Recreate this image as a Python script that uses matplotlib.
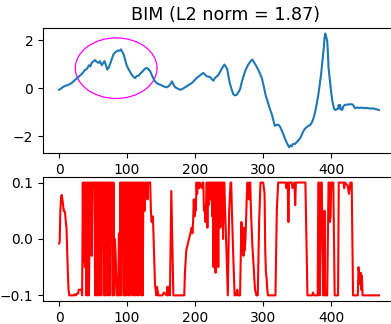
import numpy as np
import matplotlib
matplotlib.use('Agg')
import matplotlib.pyplot as plt
from matplotlib.patches import Ellipse

# top curve (signal)
sig_x = [0, 3, 6, 10, 14, 18, 22, 26, 30, 34, 38, 41, 44, 46, 48, 50, 53, 55, 58, 60,
         63, 65, 67, 69, 71, 73, 75, 78, 80, 83, 87, 89, 91, 93, 95, 97, 99, 101, 104, 107,
         110, 112, 114, 117, 120, 123, 126, 129, 131, 134, 137, 141, 145, 149, 153, 158, 162, 166, 168, 171,
         175, 178, 181, 185, 190, 195, 199, 202, 206, 209, 212, 215, 217, 220, 222, 224, 227, 229, 232, 235,
         237, 240, 243, 245, 247, 249, 251, 253, 256, 258, 261, 264, 266, 268, 271, 274, 278, 281, 284, 287,
         290, 293, 296, 298, 301, 304, 306, 309, 313, 315, 317, 320, 323, 325, 327, 330, 332, 335, 338, 340,
         342, 344, 347, 349, 352, 355, 358, 361, 364, 367, 369, 372, 375, 377, 379, 381, 383, 385, 387, 389,
         390, 391, 392, 394, 395, 396, 398, 400, 402, 404, 406, 408, 410, 411, 412, 413, 414, 416, 418, 420,
         425, 430, 432, 435, 438, 441, 445, 448, 452, 456, 460, 465, 470]
sig_y = [-0.07, -0.02, 0.05, 0.1, 0.14, 0.2, 0.3, 0.4, 0.5, 0.6, 0.75, 0.8, 0.95, 0.9, 1.05, 1.1, 1.17, 1.1, 1.05, 1.12,
         0.95, 1.05, 1.12, 0.95, 0.77, 0.85, 1.0, 1.25, 1.4, 1.5, 1.57, 1.55, 1.61, 1.5, 1.4, 1.2, 0.98, 0.85, 0.7, 0.55,
         0.45, 0.42, 0.5, 0.52, 0.62, 0.7, 0.8, 0.84, 0.8, 0.7, 0.5, 0.28, 0.18, 0.14, 0.08, 0.03, 0.1, 0.28, 0.15, 0.03,
         -0.03, -0.07, -0.04, 0.03, 0.12, 0.21, 0.32, 0.42, 0.5, 0.57, 0.63, 0.55, 0.49, 0.47, 0.46, 0.38, 0.31, 0.42, 0.49, 0.58,
         0.7, 0.85, 0.98, 0.9, 0.8, 0.5, 0.2, 0.0, -0.25, -0.3, -0.28, -0.15, -0.05, 0.2, 0.49, 0.75, 0.98, 1.1, 1.19, 1.05,
         0.91, 0.75, 0.55, 0.42, 0.05, -0.35, -0.5, -0.8, -1.12, -1.35, -1.57, -1.52, -1.54, -1.62, -1.75, -1.95, -2.1, -2.3, -2.46, -2.38,
         -2.42, -2.32, -2.32, -2.25, -2.17, -2.05, -1.85, -1.7, -1.62, -1.56, -1.54, -1.4, -1.15, -0.9, -0.6, -0.28, 0.15, 0.56, 1.1, 1.68,
         2.05, 2.27, 2.2, 1.96, 1.5, 0.84, 0.3, -0.21, -0.6, -0.85, -0.91, -0.88, -0.84, -0.7, -0.85, -0.7, -0.88, -0.91, -0.75, -0.7,
         -0.68, -0.67, -0.7, -0.84, -0.8, -0.83, -0.81, -0.84, -0.82, -0.85, -0.84, -0.87, -0.91]

# bottom curve (perturbation)
pert_x = [0, 1, 2, 3, 4, 5, 6, 7, 8, 9, 10, 11, 12, 13, 14, 15, 22, 23, 25, 26,
          28, 29, 31, 33, 34, 35, 36, 37, 38, 39, 40, 41, 42, 43, 44, 45, 46, 47, 48, 49,
          52, 53, 54, 55, 56, 57, 58, 59, 60, 61, 62, 63, 65, 66, 67, 68, 69, 70, 71, 72,
          73, 74, 75, 76, 77, 78, 79, 80, 81, 82, 83, 84, 85, 87, 88, 89, 90, 91, 92, 93,
          94, 95, 96, 97, 98, 99, 100, 101, 102, 103, 104, 105, 106, 107, 108, 109, 110, 111, 112, 113,
          114, 115, 116, 117, 118, 119, 120, 121, 122, 123, 124, 126, 127, 129, 130, 131, 134, 135, 136, 138,
          139, 141, 143, 144, 146, 152, 154, 158, 159, 160, 161, 163, 165, 168, 184, 185, 187, 189, 191, 193,
          195, 196, 197, 198, 199, 200, 201, 202, 203, 204, 206, 207, 210, 211, 212, 213, 214, 215, 216, 217,
          218, 219, 220, 221, 222, 223, 224, 225, 226, 227, 228, 229, 230, 231, 232, 233, 234, 235, 236, 237,
          238, 239, 240, 241, 242, 243, 244, 246, 248, 250, 252, 253, 254, 256, 258, 260, 262, 263, 266, 268,
          269, 270, 271, 272, 273, 274, 276, 277, 279, 280, 281, 282, 283, 284, 286, 288, 290, 292, 294, 296,
          300, 302, 303, 304, 305, 306, 307, 318, 320, 322, 333, 334, 336, 337, 338, 342, 343, 346, 347, 348,
          362, 365, 372, 373, 375, 380, 381, 382, 383, 385, 386, 388, 389, 390, 391, 394, 396, 397, 398, 399,
          400, 403, 405, 410, 411, 413, 418, 419, 420, 424, 426, 428, 430, 432, 439, 440, 441, 442, 443, 444,
          445, 446, 447, 470]
pert_y = [-0.008, -0.005, 0.05, 0.074, 0.078, 0.07, 0.06, 0.05, 0.05, 0.045, 0.03, 0.02, -0.02, -0.06, -0.09, -0.1, -0.1, -0.098, -0.1, -0.097,
          -0.097, -0.09, -0.09, -0.09, -0.1, 0.1, -0.04, 0.1, -0.05, 0.1, -0.1, 0.1, -0.1, 0.1, -0.1, 0.02, 0.1, 0.1, -0.03, 0.1,
          0.1, -0.1, 0.1, -0.1, 0.1, -0.1, 0.1, 0.1, -0.1, 0.1, -0.1, 0.1, 0.1, -0.1, 0.1, -0.1, 0.1, -0.1, 0.1, 0.1,
          -0.1, 0.1, -0.1, 0.1, 0.02, 0.1, -0.1, 0.1, -0.1, 0.0, -0.02, -0.06, -0.1, -0.1, 0.01, -0.1, 0.1, -0.1, 0.1, 0.0,
          0.1, -0.1, 0.1, -0.1, 0.1, -0.1, 0.1, 0.1, -0.1, 0.1, -0.1, 0.1, 0.04, 0.1, -0.1, 0.1, -0.1, 0.1, -0.1, 0.1,
          0.1, -0.1, 0.1, -0.1, 0.1, 0.02, 0.1, -0.1, 0.1, -0.1, 0.1, 0.05, 0.1, 0.1, 0.07, 0.1, 0.1, 0.05, 0.03, 0.04,
          0.0, -0.08, -0.1, -0.085, -0.1, -0.1, -0.095, -0.1, -0.085, -0.1, -0.085, -0.1, 0.085, -0.1, -0.1, -0.06, -0.02, -0.01, 0.0, 0.01,
          0.02, 0.01, 0.03, 0.07, 0.04, 0.07, 0.05, 0.1, 0.08, 0.1, 0.09, 0.1, 0.09, 0.1, 0.1, 0.05, 0.06, 0.03, 0.05, 0.1,
          0.02, 0.1, 0.06, 0.1, 0.07, 0.1, 0.1, 0.04, 0.1, -0.05, 0.1, 0.1, -0.06, 0.1, 0.0, 0.1, -0.05, 0.1, 0.1, 0.02,
          0.1, 0.05, 0.1, 0.0, 0.1, 0.1, 0.05, -0.02, -0.1, 0.05, 0.1, 0.1, 0.05, -0.03, -0.1, -0.1, -0.09, -0.1, -0.1, 0.03,
          -0.02, 0.01, -0.03, 0.02, -0.02, 0.0, 0.08, 0.1, 0.07, 0.1, 0.1, 0.05, 0.02, -0.01, -0.05, -0.09, -0.1, -0.1, 0.03, 0.1,
          0.1, 0.08, -0.02, -0.06, -0.07, -0.09, -0.1, -0.1, 0.05, 0.1, 0.1, 0.09, 0.1, 0.03, 0.1, 0.1, 0.09, 0.1, 0.06, 0.1,
          0.1, -0.1, -0.1, -0.095, -0.1, -0.1, 0.1, 0.1, -0.1, 0.1, 0.1, -0.1, -0.1, 0.05, -0.1, -0.1, 0.1, 0.1, 0.03, 0.04,
          0.1, 0.1, -0.1, -0.1, 0.1, 0.1, 0.1, 0.09, 0.1, 0.095, 0.08, 0.1, 0.1, -0.1, -0.1, -0.05, -0.06, -0.08, -0.06, -0.09,
          -0.065, -0.1, -0.1, -0.1]

title = 'BIM (L2 norm = 1.87)'

fig = plt.figure(figsize=(3.91, 3.24), dpi=100)
ax1 = fig.add_axes([0.110, 0.528, 0.900, 0.386])
ax2 = fig.add_axes([0.110, 0.071, 0.900, 0.383])

ax1.plot(sig_x, sig_y, color='#1f77b4', linewidth=1.5)
ax1.set_title(title, fontsize=12.6, x=0.52)
ax1.add_patch(Ellipse((84, 0.83), 120, 2.52, fill=False, edgecolor='magenta', linewidth=0.9))

ax2.plot(pert_x, pert_y, color='red', linewidth=1.5)

for ax in (ax1, ax2):
    ax.set_xticks([0, 100, 200, 300, 400])
ax1.set_yticks([-2, 0, 2])
ax2.set_yticks([-0.1, 0.0, 0.1])

plt.savefig('out.png', dpi=100)
